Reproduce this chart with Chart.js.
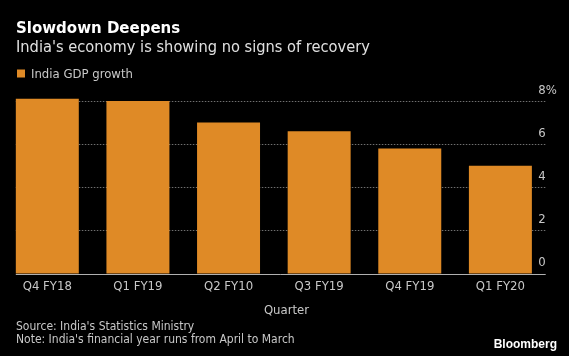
<!DOCTYPE html>
<html><head><meta charset="utf-8">
<style>html,body{margin:0;padding:0;background:#000;}#wrap{width:569px;height:356px;position:relative;background:#000}</style>
<script src="https://cdn.jsdelivr.net/npm/chart.js@4/dist/chart.umd.min.js"></script>
</head><body><div id="wrap"><canvas id="c" width="569" height="356"></canvas></div>
<script>
const categories = ['Q4 FY18', 'Q1 FY19', 'Q2 FY10', 'Q3 FY19', 'Q4 FY19', 'Q1 FY20'];
const gdpGrowth = [8.1, 8.0, 7.0, 6.6, 5.8, 5.0];
const yTicks = [0, 2, 4, 6, 8];
const seriesName = 'India GDP growth';
const titleText = 'Slowdown Deepens';
const subtitleText = "India's economy is showing no signs of recovery";
const xTitle = 'Quarter';
const sourceText = "Source: India's Statistics Ministry";
const noteText = "Note: India's financial year runs from April to March";
const brandText = 'Bloomberg';

const COND = '"DejaVu Sans Condensed", "DejaVu Sans", sans-serif';
const BAR = '#DF8A26';

const decor = {
  id: 'decor',
  beforeDatasetsDraw(chart) {
    const ctx = chart.ctx, ys = chart.scales.y, area = chart.chartArea;
    const b = chart.getDatasetMeta(0).data[0];
    const left = b.x - b.width / 2;
    ctx.save();
    ctx.strokeStyle = '#707070';
    ctx.lineWidth = 1;
    ctx.setLineDash([1.5, 1.5]);
    yTicks.forEach(v => {
      if (v === 0) return;
      const y = Math.round(ys.getPixelForValue(v)) + 0.5;
      ctx.beginPath(); ctx.moveTo(left, y); ctx.lineTo(area.right, y); ctx.stroke();
    });
    ctx.restore();
  },
  afterDatasetsDraw(chart) {
    const ctx = chart.ctx, ys = chart.scales.y, area = chart.chartArea;
    const b = chart.getDatasetMeta(0).data[0];
    const left = b.x - b.width / 2;
    ctx.save();
    ctx.strokeStyle = '#b0b0b0';
    ctx.lineWidth = 1;
    const y0 = Math.round(ys.getPixelForValue(0)) + 0.5;
    ctx.beginPath(); ctx.moveTo(left, y0); ctx.lineTo(area.right, y0); ctx.stroke();
    ctx.restore();
  },
  afterDraw(chart) {
    const ctx = chart.ctx, ys = chart.scales.y, area = chart.chartArea;
    ctx.save();
    ctx.textBaseline = 'alphabetic';
    ctx.font = '13px ' + COND;
    ctx.fillStyle = '#c8c8c8';
    yTicks.forEach(v => {
      const y = ys.getPixelForValue(v) - 7.5;
      ctx.textAlign = 'right';
      ctx.fillText(String(v), area.right, y);
      if (v === yTicks[yTicks.length - 1]) {
        ctx.textAlign = 'left';
        ctx.fillText('%', area.right, y);
      }
    });
    ctx.textAlign = 'left';
    ctx.fillStyle = '#ffffff';
    ctx.font = 'bold 15px "DejaVu Sans", sans-serif';
    ctx.fillText(titleText, 16, 33.3);
    ctx.fillStyle = '#e0e0e0';
    ctx.font = '16.3px ' + COND;
    ctx.fillText(subtitleText, 16, 51.7);
    ctx.fillStyle = BAR;
    ctx.fillRect(17, 69.5, 8, 8);
    ctx.fillStyle = '#c8c8c8';
    ctx.font = '13px ' + COND;
    ctx.fillText(seriesName, 31, 78);
    ctx.textAlign = 'center';
    ctx.fillText(xTitle, 286.5, 313.5);
    ctx.textAlign = 'left';
    ctx.font = '12px ' + COND;
    ctx.fillText(sourceText, 16, 330);
    ctx.fillText(noteText, 16, 343.3);
    ctx.textAlign = 'right';
    ctx.fillStyle = '#ffffff';
    ctx.font = 'bold 12px "Liberation Sans", Arial, sans-serif';
    ctx.fillText(brandText, 557, 348);
    ctx.restore();
  }
};

new Chart(document.getElementById('c'), {
  type: 'bar',
  data: {
    labels: categories,
    datasets: [{
      label: seriesName,
      data: gdpGrowth,
      backgroundColor: BAR,
      borderWidth: 0,
      barPercentage: 0.695,
      categoryPercentage: 1.0,
      clip: false
    }]
  },
  options: {
    responsive: false,
    animation: false,
    devicePixelRatio: 1,
    layout: { padding: { top: 101, left: 2, right: 23.3, bottom: 56.8 } },
    plugins: { legend: { display: false }, title: { display: false }, tooltip: { enabled: false } },
    scales: {
      x: {
        grid: { display: false, drawTicks: false },
        border: { display: false },
        ticks: { color: '#c8c8c8', font: { family: COND, size: 13 }, padding: 5, maxRotation: 0, autoSkip: false }
      },
      y: {
        display: false,
        min: 0, max: 8,
        ticks: { stepSize: 2 }
      }
    }
  },
  plugins: [decor]
});
</script>
</body></html>
